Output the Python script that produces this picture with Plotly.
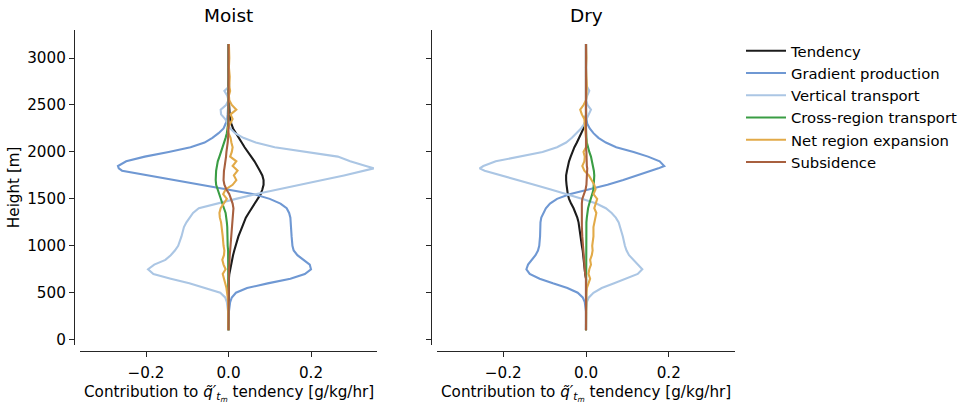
import plotly.graph_objects as go

# Heights [m]
H = [100, 300, 400, 450, 500, 550, 600, 650, 700, 750, 800, 850, 900, 950, 1000,
     1100, 1200, 1250, 1300, 1350, 1400, 1450, 1500, 1550, 1600, 1650, 1700, 1750,
     1800, 1825, 1850, 1900, 1950, 2000, 2050, 2100, 2150, 2200, 2250, 2300, 2350,
     2400, 2450, 2500, 2550, 2600, 2650, 2700, 2800, 2900, 3000, 3150]

# ---- Moist ----
moist_tendency = [0, 0, 0, 0, 0, 0, 0, 0.001, 0.002, 0.004,
                  0.006, 0.008, 0.011, 0.014, 0.017, 0.024, 0.033, 0.037, 0.042, 0.049,
                  0.056, 0.064, 0.072, 0.078, 0.082, 0.085, 0.085, 0.082, 0.076, 0.073,
                  0.070, 0.063, 0.055, 0.046, 0.039, 0.032, 0.025, 0.017, 0.011, 0.007,
                  0.004, 0.003, 0.002, 0.001, 0.001, 0, 0, 0, 0, 0, 0, 0]
moist_gradient = [0, 0.001, 0.004, 0.008, 0.018, 0.045, 0.095, 0.150, 0.185, 0.200,
                  0.197, 0.182, 0.167, 0.158, 0.155, 0.153, 0.152, 0.151, 0.150, 0.147,
                  0.141, 0.126, 0.100, 0.062, -0.002, -0.066, -0.130, -0.195, -0.258, -0.266,
                  -0.268, -0.248, -0.203, -0.145, -0.092, -0.058, -0.039, -0.024, -0.012, -0.007,
                  -0.003, -0.002, -0.001, 0, 0, 0, 0, 0, 0, 0, 0, 0]
moist_vertical = [0, -0.001, -0.004, -0.008, -0.020, -0.055, -0.095, -0.140, -0.182, -0.195,
                  -0.180, -0.153, -0.140, -0.130, -0.122, -0.114, -0.108, -0.102, -0.094, -0.086,
                  -0.072, -0.030, 0.018, 0.065, 0.122, 0.175, 0.228, 0.280, 0.333, 0.352,
                  0.333, 0.295, 0.265, 0.190, 0.112, 0.066, 0.036, 0.016, 0.004, -0.002,
                  -0.008, -0.018, -0.019, -0.006, 0, -0.003, -0.010, 0.002, 0, 0.001, 0, 0]
moist_cross = [0, 0, 0, 0, 0, 0, 0, 0, 0, 0,
               0, 0, -0.001, -0.001, -0.002, -0.002, -0.003, -0.004, -0.005, -0.007,
               -0.011, -0.015, -0.019, -0.023, -0.027, -0.030, -0.031, -0.031, -0.030, -0.029,
               -0.028, -0.026, -0.022, -0.018, -0.014, -0.010, -0.007, -0.004, -0.002, -0.001,
               0, 0, 0, 0, 0, 0, 0, 0, 0, 0, 0, 0]
moist_expansion = [0, 0, -0.001, -0.002, -0.003, -0.005, -0.008, -0.011, -0.014, -0.007,
                   -0.012, -0.015, -0.011, -0.010, -0.012, -0.014, -0.016, -0.018, -0.021, -0.022,
                   -0.019, -0.012, -0.004, -0.013, -0.007, 0.010, 0.019, 0.013, 0.022, 0.016,
                   0.010, 0.019, 0.004, 0.008, 0.010, 0.007, 0.005, 0.000, -0.002, 0.004,
                   0.010, 0.005, 0.019, 0.008, 0.002, 0.001, 0.004, 0.002, 0.003, 0.001, 0.002, 0.001]
moist_subsidence = [0, 0, 0, 0, 0, 0, 0, 0, 0.001, 0.001,
                    0.002, 0.002, 0.003, 0.004, 0.005, 0.007, 0.009, 0.010, 0.011, 0.012,
                    0.012, 0.010, 0.006, 0.002, -0.005, -0.010, -0.012, -0.012, -0.011, -0.010,
                    -0.009, -0.008, -0.006, -0.005, -0.003, -0.002, -0.001, 0, 0, 0,
                    0, 0, 0, 0, 0, 0, 0, 0, 0, 0, 0, 0]

# ---- Dry ----
dry_tendency = [0, 0, 0, 0, 0, 0, 0, 0, -0.002, -0.003,
                -0.004, -0.005, -0.007, -0.008, -0.010, -0.013, -0.016, -0.018, -0.021, -0.025,
                -0.030, -0.036, -0.041, -0.044, -0.046, -0.047, -0.048, -0.048, -0.046, -0.045,
                -0.044, -0.041, -0.037, -0.033, -0.028, -0.022, -0.016, -0.011, -0.006, -0.003,
                -0.001, 0, 0, 0, 0, 0, 0, 0, 0, 0, 0, 0]
dry_gradient = [0, 0, -0.003, -0.008, -0.020, -0.045, -0.080, -0.112, -0.136, -0.144,
                -0.140, -0.130, -0.122, -0.116, -0.113, -0.111, -0.111, -0.110, -0.108, -0.103,
                -0.097, -0.087, -0.070, -0.040, 0.010, 0.052, 0.090, 0.125, 0.160, 0.175,
                0.189, 0.178, 0.150, 0.115, 0.073, 0.048, 0.030, 0.018, 0.009, 0.003,
                0.001, 0, 0, 0, 0, 0, 0, 0, 0, 0, 0, 0]
dry_vertical = [0, 0, 0.002, 0.007, 0.018, 0.038, 0.068, 0.098, 0.125, 0.136,
                0.126, 0.114, 0.104, 0.098, 0.094, 0.089, 0.083, 0.079, 0.072, 0.062,
                0.048, 0.025, -0.010, -0.045, -0.085, -0.125, -0.165, -0.205, -0.245, -0.257,
                -0.248, -0.218, -0.158, -0.105, -0.070, -0.048, -0.034, -0.022, -0.012, -0.004,
                0.001, 0.006, 0.012, 0.004, 0, 0.003, 0.008, 0.002, 0, 0, 0, 0]
dry_cross = [0, 0, 0, 0, 0, 0, 0, 0, 0, 0,
             0, 0, 0, 0, 0, 0, 0.001, 0.001, 0.002, 0.003,
             0.005, 0.008, 0.012, 0.015, 0.018, 0.019, 0.020, 0.020, 0.019, 0.018,
             0.017, 0.015, 0.012, 0.008, 0.005, 0.002, 0.001, 0, 0, 0,
             0, 0, 0, 0, 0, 0, 0, 0, 0, 0, 0, 0]
dry_expansion = [0, 0, 0, 0, 0.001, 0.002, 0.006, 0.010, 0.006, 0.008,
                 0.012, 0.010, 0.014, 0.016, 0.015, 0.018, 0.018, 0.020, 0.022, 0.025,
                 0.020, 0.024, 0.027, 0.018, 0.023, 0.020, 0.013, 0.007, -0.004, -0.007,
                 -0.009, -0.004, -0.003, -0.006, 0.000, 0.001, 0.000, 0.000, -0.001, -0.002,
                 -0.004, -0.010, -0.014, -0.006, 0.000, 0.001, 0.002, 0.002, 0.001, 0.000, 0.001, 0.000]
dry_subsidence = [0, 0, 0, 0, 0, 0, 0, 0, -0.002, -0.003,
                  -0.004, -0.005, -0.006, -0.007, -0.008, -0.009, -0.010, -0.010, -0.011, -0.011,
                  -0.011, -0.010, -0.009, -0.004, -0.001, 0.001, 0.002, 0.003, 0.003, 0.003,
                  0.002, 0.002, 0.001, 0.001, 0, 0, 0, 0, 0, 0,
                  0, 0, 0, 0, 0, 0, 0, 0, 0, 0, 0, 0]

names = ["Tendency", "Gradient production", "Vertical transport",
         "Cross-region transport", "Net region expansion", "Subsidence"]
colors = ["#1c1c1c", "#6f98d3", "#abc6e4", "#3a9d44", "#e2aa48", "#a8603f"]
moist = [moist_tendency, moist_gradient, moist_vertical, moist_cross, moist_expansion, moist_subsidence]
dry = [dry_tendency, dry_gradient, dry_vertical, dry_cross, dry_expansion, dry_subsidence]

W, Hpx = 968, 405
FONT = "DejaVu Sans"
AX = "#262626"
FS = 15.2
FL = 14.8
FT = 18.5

fig = go.Figure()
for i, (nm, c) in enumerate(zip(names, colors)):
    fig.add_trace(go.Scatter(x=moist[i], y=H, mode="lines", name=nm,
                             line=dict(color=c, width=2.1), xaxis="x", yaxis="y",
                             showlegend=True))
for i, (nm, c) in enumerate(zip(names, colors)):
    fig.add_trace(go.Scatter(x=dry[i], y=H, mode="lines", name=nm,
                             line=dict(color=c, width=2.1), xaxis="x2", yaxis="y2",
                             showlegend=False))

def px_x(p):
    return p / W

def px_y(p):
    return 1 - p / Hpx

xdom1 = [px_x(80), px_x(377)]
xdom2 = [px_x(437), px_x(735)]
ydom = [px_y(348), px_y(30)]

common_x = dict(range=[-0.36, 0.36], tickvals=[-0.2, 0.0, 0.2], tickformat=".1f",
                showgrid=False, zeroline=False, showline=True, linecolor=AX, linewidth=1.25,
                ticks="outside", ticklen=5, tickwidth=1.25, tickcolor=AX,
                ticklabelstandoff=3,
                tickfont=dict(family=FONT, size=FS, color="black"),
                anchor="free", position=px_y(354))
common_y = dict(range=[-52, 3302], tickvals=[0, 500, 1000, 1500, 2000, 2500, 3000],
                showgrid=False, zeroline=False, showline=True, linecolor=AX, linewidth=1.25,
                ticks="outside", ticklen=5, tickwidth=1.25, tickcolor=AX,
                tickfont=dict(family=FONT, size=FS, color="black"),
                anchor="free", domain=ydom)

fig.update_layout(
    width=W, height=Hpx,
    margin=dict(l=0, r=0, t=0, b=0),
    paper_bgcolor="white", plot_bgcolor="white",
    font=dict(family=FONT, size=FS, color="black"),
    xaxis=dict(domain=xdom1, **common_x),
    xaxis2=dict(domain=xdom2, **common_x),
    yaxis=dict(position=px_x(74), **common_y),
    yaxis2=dict(position=px_x(431), showticklabels=False, matches="y", **common_y),
    showlegend=True,
    legend=dict(x=px_x(741), y=px_y(35), xanchor="left", yanchor="top",
                itemwidth=40,
                font=dict(family=FONT, size=FL, color="black"),
                bgcolor="rgba(0,0,0,0)", borderwidth=0),
)

xlabel = "Contribution to <i>q̃′</i><sub><i>t<sub>m</sub></i></sub> tendency [g/kg/hr]"
annots = [
    dict(text="Moist", x=px_x(228.5), y=px_y(15.5), size=FT),
    dict(text="Dry", x=px_x(586), y=px_y(15.5), size=FT),
    dict(text=xlabel, x=px_x(228.5), y=px_y(397), size=FS),
    dict(text=xlabel, x=px_x(586), y=px_y(397), size=FS),
    dict(text="Height [m]", x=px_x(14), y=px_y(189), size=FS, angle=-90),
]
for a in annots:
    fig.add_annotation(xref="paper", yref="paper", xanchor="center", yanchor="middle",
                       showarrow=False, text=a["text"], x=a["x"], y=a["y"],
                       textangle=a.get("angle", 0),
                       font=dict(family=FONT, color="black", size=a["size"]))

fig.write_html("out.html")
